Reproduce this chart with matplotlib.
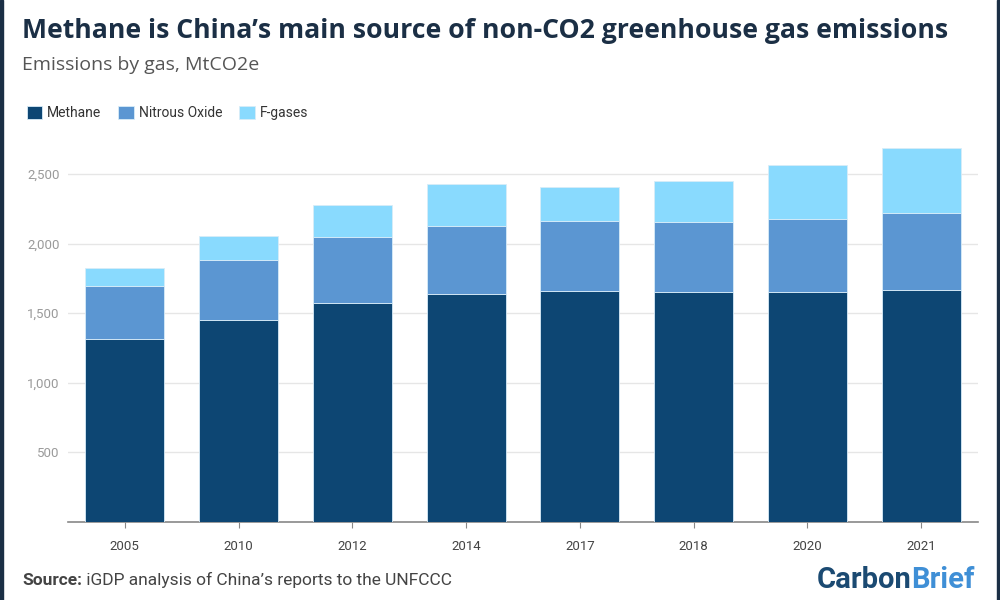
import matplotlib.pyplot as plt
import numpy as np

years = ["2005", "2010", "2012", "2014", "2017", "2018", "2020", "2021"]
methane = [1312, 1451, 1576, 1638, 1659, 1650, 1650, 1667]
nitrous = [381, 433, 469, 491, 503, 507, 524, 555]
fgases = [129, 170, 235, 297, 245, 295, 391, 462]

series_labels = ["Methane", "Nitrous Oxide", "F-gases"]
colors = ["#0d4673", "#5b96d2", "#89dafe"]
yticks = [500, 1000, 1500, 2000, 2500]

plt.rcParams['font.family'] = ['Roboto', 'DejaVu Sans']

fig = plt.figure(figsize=(10, 6), dpi=100)
ax = fig.add_axes([0.068, 0.13, 0.91, 0.6367])

x = np.arange(len(years))
bottom = np.zeros(len(years))
for vals, lab, col in zip([methane, nitrous, fgases], series_labels, colors):
    ax.bar(x, vals, width=0.695, bottom=bottom, color=col, label=lab,
           edgecolor="#d8ecf8", linewidth=0.6, zorder=3)
    bottom += np.array(vals)

ax.set_xlim(-0.5, 7.5)
ax.set_ylim(0, 2744)
ax.set_yticks(yticks)
ax.set_yticklabels([f"{v:,}" for v in yticks])
ax.set_xticks(x)
ax.set_xticklabels(years)
ax.grid(axis="y", color="#e6e6e6", linewidth=1, zorder=0)
for s in ["top", "right", "left"]:
    ax.spines[s].set_visible(False)
ax.spines["bottom"].set_color("#888888")
ax.spines["bottom"].set_linewidth(1.2)
ax.tick_params(axis="y", length=0, labelsize=9.5, labelcolor="#9a9a9a", pad=6)
ax.tick_params(axis="x", length=4, color="#888888", labelsize=9.5,
               labelcolor="#444444", pad=9)

fig.text(0.022, 0.948, "Methane is China\u2019s main source of non-CO2 greenhouse gas emissions",
         fontsize=19.2, fontweight="bold", color="#1b2f45", family=["Open Sans", "DejaVu Sans"],
         va="center")
fig.text(0.022, 0.892, "Emissions by gas, MtCO2e", fontsize=14, color="#555555",
         family=["Open Sans", "DejaVu Sans"], va="center")

handles, labels = ax.get_legend_handles_labels()
leg = fig.legend(handles, labels, loc="center left", bbox_to_anchor=(0.014, 0.812),
                 ncol=3, frameon=False, fontsize=10, handlelength=1.1, handleheight=1.1,
                 handletextpad=0.4, columnspacing=1.2)
for t in leg.get_texts():
    t.set_color("#333333")

# source line: bold "Source:" then the rest right after it
src = fig.text(0.022, 0.033, "Source:", fontsize=12.5, fontweight="bold", color="#444444",
               va="center")
ax.annotate(" iGDP analysis of China\u2019s reports to the UNFCCC", xy=(1, 0.5),
            xycoords=src, va="center", ha="left", fontsize=12.5, color="#444444",
            annotation_clip=False)

# CarbonBrief wordmark
brief = fig.text(0.975, 0.033, "Brief", fontsize=21, fontweight="bold", color="#3f8fd6",
                 va="center", ha="right")
ax.annotate("Carbon", xy=(0, 0.5), xycoords=brief, va="center", ha="right",
            fontsize=21, fontweight="bold", color="#1b4a72", annotation_clip=False)

# dark side borders
fig.patches.append(plt.Rectangle((0, 0), 0.003, 1, transform=fig.transFigure,
                                 color="#1b2f45", zorder=10))
fig.patches.append(plt.Rectangle((0.997, 0), 0.003, 1, transform=fig.transFigure,
                                 color="#1b2f45", zorder=10))

fig.savefig("out.png", dpi=100)
